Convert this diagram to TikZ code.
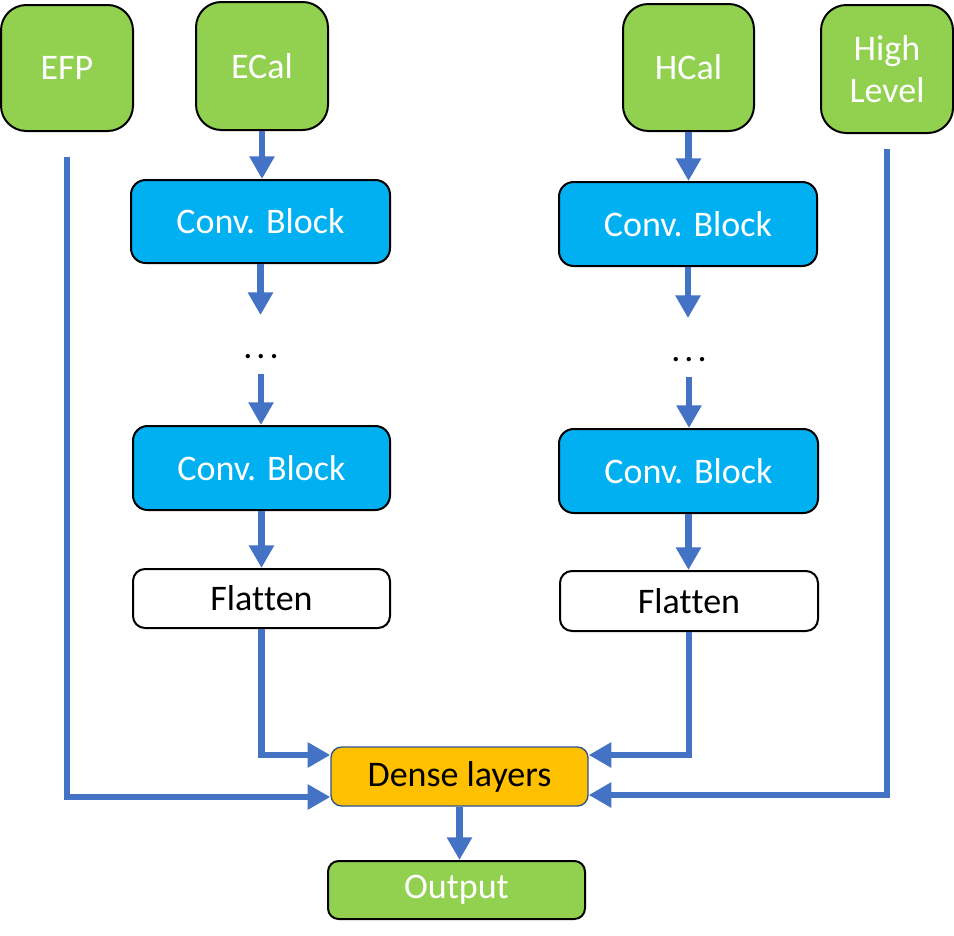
\documentclass[tikz,border=0pt]{standalone}
\usepackage{fontspec}
\setmainfont{Carlito}[Ligatures={NoCommon}]
\usetikzlibrary{arrows.meta}
\definecolor{boxgreen}{HTML}{92D050}
\definecolor{boxblue}{HTML}{00B0F0}
\definecolor{boxorange}{HTML}{FFC000}
\definecolor{arrblue}{HTML}{4472C4}
\definecolor{densebd}{HTML}{2F528F}
\begin{document}
\begin{tikzpicture}[x=0.75pt,y=-0.75pt,
  basebox/.style={draw=black, line width=1.5pt, inner sep=0pt, align=center,
    font=\fontsize{27}{32}\selectfont},
  inbox/.style={basebox, fill=boxgreen, text=white, rounded corners=19pt},
  convbox/.style={basebox, fill=boxblue, text=white, rounded corners=11pt},
  flatbox/.style={basebox, fill=white, text=black, rounded corners=9pt},
  densebox/.style={basebox, draw=densebd, line width=1pt, fill=boxorange, text=black, rounded corners=8pt},
  outbox/.style={basebox, fill=boxgreen, text=white, rounded corners=8pt},
  dotsnode/.style={inner sep=0pt, anchor=base, text height=32pt, text depth=12pt,
    font=\fontsize{27}{32}\selectfont},
  arr/.style={draw=arrblue, line width=5pt, -{Triangle[length=17pt,width=18pt]}}
]
\useasboundingbox (0,0) rectangle (954,936);
% inputs
\node[inbox, minimum width=132*0.75pt, minimum height=126*0.75pt] (efp) at (67,68) {EFP};
\node[inbox, minimum width=132*0.75pt, minimum height=128*0.75pt] (ecal) at (262,66) {ECal};
\node[inbox, minimum width=131*0.75pt, minimum height=127*0.75pt] (hcal) at (688.5,67.5) {HCal};
\node[inbox, minimum width=132*0.75pt, minimum height=128*0.75pt] (hl) at (887,69) {High\\Level};
% ECal branch
\node[convbox, minimum width=259*0.75pt, minimum height=83*0.75pt] (conv1e) at (260.5,221.5) {Conv. Block};
\node[dotsnode] (dotse) at (261,358) {.\kern3pt.\kern3pt.};
\node[convbox, minimum width=257*0.75pt, minimum height=84*0.75pt] (conv2e) at (261.5,468) {Conv. Block};
\node[flatbox, minimum width=257*0.75pt, minimum height=59*0.75pt] (flate) at (261.5,598.5) {Flat\kern0pt ten};
% HCal branch
\node[convbox, minimum width=258*0.75pt, minimum height=84*0.75pt] (conv1h) at (688,224) {Conv. Block};
\node[dotsnode] (dotsh) at (689,361) {.\kern3pt.\kern3pt.};
\node[convbox, minimum width=259*0.75pt, minimum height=84*0.75pt] (conv2h) at (688.5,471) {Conv. Block};
\node[flatbox, minimum width=258*0.75pt, minimum height=60*0.75pt] (flath) at (689,601) {Flat\kern0pt ten};
% dense and output
\node[densebox, minimum width=257*0.75pt, minimum height=59*0.75pt] (dense) at (459.5,776.5) {Dense layers};
\node[outbox, minimum width=257*0.75pt, minimum height=58*0.75pt] (output) at (456.5,890) {Output};
% free ends
\coordinate (efpend) at (67,157);
\coordinate (hlend) at (887,149);
% connectors ECal
\draw[arr] (ecal.south) -- (ecal.south |- conv1e.north);
\draw[arr] (conv1e.south) -- (conv1e.south |- dotse.north);
\draw[arr] (dotse.south) -- (dotse.south |- conv2e.north);
\draw[arr] (conv2e.south) -- (conv2e.south |- flate.north);
\draw[arr] (flate.south) |- (dense.west |- 0,755);
% connectors HCal
\draw[arr] (hcal.south) -- (hcal.south |- conv1h.north);
\draw[arr] (conv1h.south) -- (conv1h.south |- dotsh.north);
\draw[arr] (dotsh.south) -- (dotsh.south |- conv2h.north);
\draw[arr] (conv2h.south) -- (conv2h.south |- flath.north);
\draw[arr] (flath.south) |- (dense.east |- 0,755);
% side inputs
\draw[arr] (efpend) |- (dense.west |- 0,797);
\draw[arr] (hlend) |- (dense.east |- 0,795);
% output
\draw[arr] (dense.south) -- (dense.south |- output.north);
\end{tikzpicture}
\end{document}
